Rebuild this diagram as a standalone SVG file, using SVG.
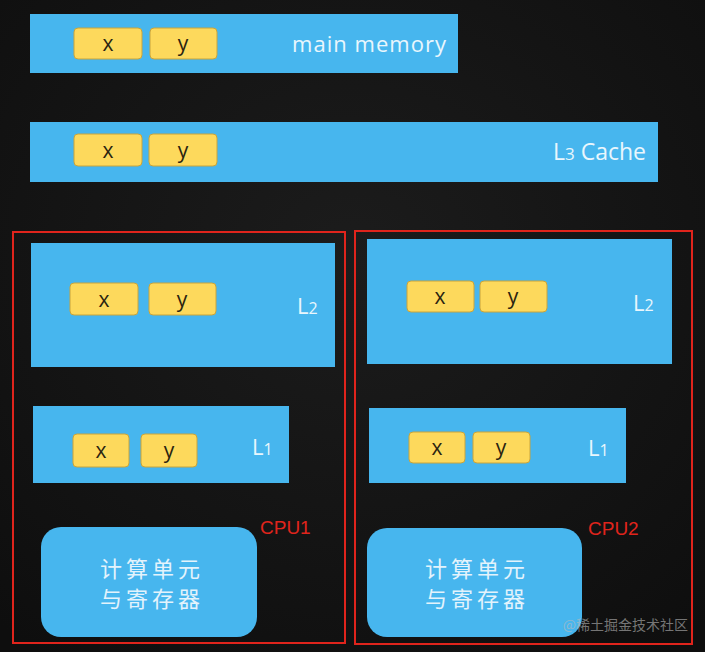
<svg xmlns="http://www.w3.org/2000/svg" width="705" height="652" viewBox="0 0 705 652">
<defs>
<style>
.bar{fill:#47b6ee}
.cell{fill:#fdd95c;stroke:#c8a43c;stroke-width:1}
.ct{font-family:"Open Sans","Liberation Sans",sans-serif;font-size:21px;fill:#2a2410;text-anchor:middle}
.lbl{font-family:"Open Sans","Liberation Sans",sans-serif;fill:#e9f6fd}
.cpu{fill:none;stroke:#e0241c;stroke-width:2}
.cpul{font-family:"Liberation Sans","Noto Sans",sans-serif;font-size:19px;fill:#e0241c}
.cn{font-family:"Noto Sans CJK SC",sans-serif;font-size:22px;fill:#e3f3fc;text-anchor:middle;letter-spacing:4px}
</style>
<radialGradient id="bg" cx="50%" cy="40%" r="75%">
<stop offset="0" stop-color="#1c1c1c"/>
<stop offset="1" stop-color="#0e0e0e"/>
</radialGradient>
</defs>
<rect width="705" height="652" fill="url(#bg)"/>

<g id="main-memory">
<rect class="bar" x="30" y="14" width="428" height="59"/>
<rect class="cell" x="74" y="28" width="68" height="31" rx="4"/>
<text class="ct" x="108" y="51">x</text>
<rect class="cell" x="150" y="28" width="67" height="31" rx="4"/>
<text class="ct" x="183" y="51">y</text>
<text class="lbl" x="446" y="52" font-size="22" text-anchor="end" textLength="154">main memory</text>
</g>

<g id="l3-cache">
<rect class="bar" x="30" y="122" width="628" height="60"/>
<rect class="cell" x="74" y="134" width="68" height="32" rx="4"/>
<text class="ct" x="108" y="158">x</text>
<rect class="cell" x="149" y="134" width="68" height="32" rx="4"/>
<text class="ct" x="183" y="158">y</text>
<text class="lbl" x="646" y="160" font-size="23" text-anchor="end">L<tspan font-size="17">3</tspan> Cache</text>
</g>

<g id="cpu1">
<rect class="cpu" x="13" y="232" width="332" height="411"/>
<text class="cpul" x="260" y="534">CPU1</text>
</g>

<g id="cpu1-l2">
<rect class="bar" x="31" y="243" width="304" height="124"/>
<rect class="cell" x="70" y="283" width="68" height="32" rx="4"/>
<text class="ct" x="104" y="307">x</text>
<rect class="cell" x="149" y="283" width="67" height="32" rx="4"/>
<text class="ct" x="182" y="307">y</text>
<text class="lbl" x="297" y="314" font-size="22">L<tspan font-size="16">2</tspan></text>
</g>

<g id="cpu1-l1">
<rect class="bar" x="33" y="406" width="256" height="77"/>
<rect class="cell" x="73" y="434" width="56" height="33" rx="4"/>
<text class="ct" x="101" y="458">x</text>
<rect class="cell" x="141" y="434" width="56" height="33" rx="4"/>
<text class="ct" x="169" y="458">y</text>
<text class="lbl" x="252" y="455" font-size="22">L<tspan font-size="16">1</tspan></text>
</g>

<g id="cpu1-alu">
<rect class="bar" x="41" y="527" width="216" height="110" rx="20"/>
<text class="cn" x="152" y="577">计算单元</text>
<text class="cn" x="152" y="607">与寄存器</text>
</g>

<g id="cpu2">
<rect class="cpu" x="355" y="231" width="337" height="413"/>
<text class="cpul" x="588" y="535">CPU2</text>
</g>

<g id="cpu2-l2">
<rect class="bar" x="367" y="239" width="305" height="125"/>
<rect class="cell" x="407" y="281" width="67" height="31" rx="4"/>
<text class="ct" x="440" y="304">x</text>
<rect class="cell" x="480" y="281" width="67" height="31" rx="4"/>
<text class="ct" x="513" y="304">y</text>
<text class="lbl" x="633" y="311" font-size="22">L<tspan font-size="16">2</tspan></text>
</g>

<g id="cpu2-l1">
<rect class="bar" x="369" y="408" width="257" height="75"/>
<rect class="cell" x="409" y="432" width="56" height="31" rx="4"/>
<text class="ct" x="437" y="455">x</text>
<rect class="cell" x="473" y="432" width="57" height="31" rx="4"/>
<text class="ct" x="501" y="455">y</text>
<text class="lbl" x="588" y="456" font-size="22">L<tspan font-size="16">1</tspan></text>
</g>

<g id="cpu2-alu">
<rect class="bar" x="367" y="528" width="215" height="109" rx="20"/>
<text class="cn" x="477" y="577">计算单元</text>
<text class="cn" x="477" y="607">与寄存器</text>
</g>

<text x="688" y="630" font-family="Noto Sans CJK SC,sans-serif" font-size="14" fill="#bbbbbb" fill-opacity="0.6" text-anchor="end">@稀土掘金技术社区</text>
</svg>
